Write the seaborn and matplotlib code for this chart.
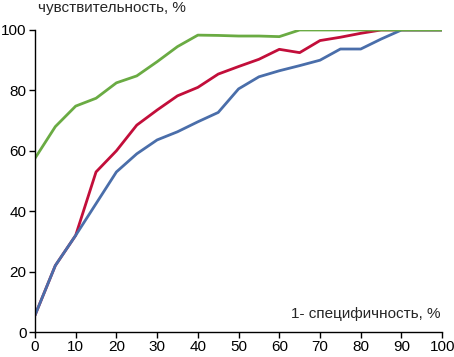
import seaborn as sns
import matplotlib.pyplot as plt

# 1 - specificity, %
x = [0, 5, 10, 15, 20, 25, 30, 35, 40, 45, 50, 55, 60, 65, 70, 75, 80, 85, 90, 95, 100]

# sensitivity, % for the three curves
red = [5.5, 22, 32, 53, 60, 68.5, 73.5, 78.2, 81, 85.4, 87.9, 90.3, 93.6, 92.5, 96.5, 97.6, 98.9, 100, 100, 100, 100]
blue = [5.5, 22, 32, 42.5, 53, 59, 63.6, 66.3, 69.6, 72.7, 80.5, 84.5, 86.5, 88.2, 90, 93.7, 93.7, 97, 100, 100, 100]
green = [57.5, 68, 74.8, 77.4, 82.5, 84.8, 89.5, 94.5, 98.3, 98.2, 98, 98, 97.8, 100, 100, 100, 100, 100, 100, 100, 100]

sns.set_style("ticks")
plt.rcParams['font.family'] = ['Liberation Sans', 'DejaVu Sans']

fig = plt.figure(figsize=(4.54, 3.57), dpi=100)
ax = fig.add_axes([0.077, 0.07, 0.897, 0.846])

# red first so blue covers it where they overlap, green on top
sns.lineplot(x=x, y=red, color="#C20E3A", linewidth=2, ax=ax)
sns.lineplot(x=x, y=blue, color="#4A6EAA", linewidth=2, ax=ax)
sns.lineplot(x=x, y=green, color="#6AAB43", linewidth=2, ax=ax)

ax.set_xlim(0, 100)
ax.set_ylim(0, 100)
ax.set_xticks(range(0, 101, 10))
ax.set_yticks(range(0, 101, 20))
ax.tick_params(labelsize=11, length=4, width=1, pad=2, colors="black")
for s in ["top", "right"]:
    ax.spines[s].set_visible(False)
for s in ["left", "bottom"]:
    ax.spines[s].set_color("black")
    ax.spines[s].set_linewidth(1)

fig.text(0.084, 0.977, "чувствительность, %", fontsize=11, va="center", ha="left")
ax.text(99.5, 6, "1- специфичность, %", fontsize=11, va="center", ha="right")

plt.savefig("out.png", dpi=100)
